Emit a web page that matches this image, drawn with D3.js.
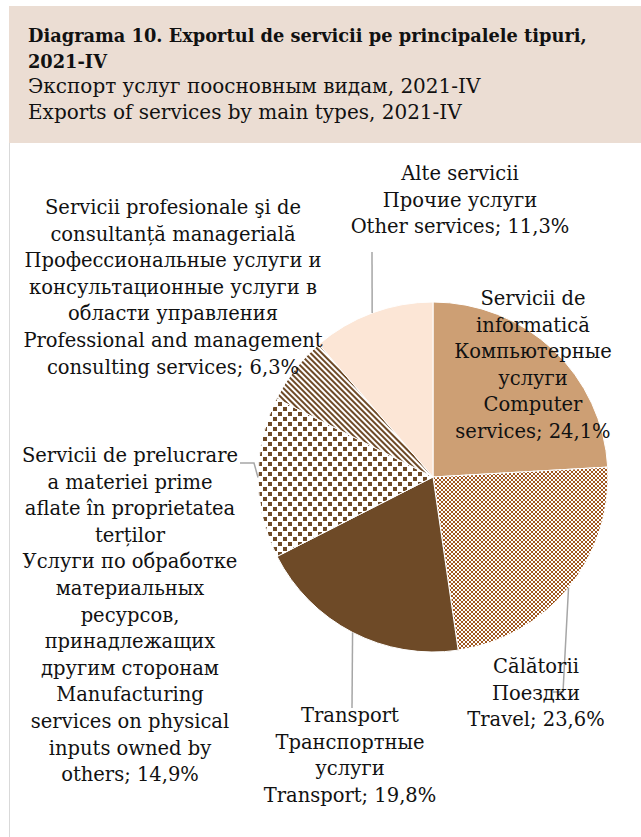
<!DOCTYPE html>
<html>
<head>
<meta charset="utf-8">
<script src="https://cdn.jsdelivr.net/npm/d3@7"></script>
<style>
  body { margin: 0; background: #fff; }
  text { font-family: "DejaVu Serif", serif; fill: #111; }
</style>
</head>
<body>
<div id="chart-div"></div>
<script>
// data
var categories = ["Computer", "Travel", "Transport", "Manufacturing", "Professional", "Other"];
var shares = [24.1, 23.6, 19.8, 14.9, 6.3, 11.3];
var labelLines = [
    ["Servicii de", "informatică", "Компьютерные", "услуги", "Computer", "services; 24,1%"],
    ["Călătorii", "Поездки", "Travel; 23,6%"],
    ["Transport", "Транспортные", "услуги", "Transport; 19,8%"],
    ["Servicii de prelucrare", "a materiei prime", "aflate în proprietatea", "terților",
     "Услуги по обработке", "материальных", "ресурсов,", "принадлежащих", "другим сторонам",
     "Manufacturing", "services on physical", "inputs owned by", "others; 14,9%"],
    ["Servicii profesionale şi de", "consultanță managerială", "Профессиональные услуги и",
     "консультационные услуги в", "области управления", "Professional and management",
     "consulting services; 6,3%"],
    ["Alte servicii", "Прочие услуги", "Other services; 11,3%"]
];
var titleLines = [
    "Diagrama 10. Exportul de servicii pe principalele tipuri,",
    "2021-IV",
    "Экспорт услуг поосновным видам, 2021-IV",
    "Exports of services by main types, 2021-IV"
];

var width = 641, height = 837;
var cx = 433, cy = 477, radius = 175;
var lineH = 26.6;

// label placement (center x, first baseline) and leader line ends
var labelPos = [
    {x: 533, y: 305, line: null},
    {x: 536, y: 673, line: [[563, 692], [553, 692]]},
    {x: 350, y: 722, line: [[352, 708]]},
    {x: 130, y: 462, line: [[254, 463], [240, 463]]},
    {x: 173, y: 214, line: null},
    {x: 460, y: 180, line: [[372, 252]]}
];

var svg = d3.select('#chart-div')
    .append('svg')
    .attr("width", width)
    .attr("height", height);

var defs = svg.append("defs");

// Travel: small checker
var pTravel = defs.append("pattern").attr("id", "p-travel")
    .attr("patternUnits", "userSpaceOnUse").attr("width", 4).attr("height", 4);
pTravel.append("rect").attr("width", 4).attr("height", 4).attr("fill", "#fff");
pTravel.append("rect").attr("width", 2).attr("height", 2).attr("fill", "#a0571f");
pTravel.append("rect").attr("x", 2).attr("y", 2).attr("width", 2).attr("height", 2).attr("fill", "#a0571f");

// Manufacturing: large dots
var pManuf = defs.append("pattern").attr("id", "p-manuf")
    .attr("patternUnits", "userSpaceOnUse").attr("width", 10).attr("height", 10);
pManuf.append("rect").attr("width", 10).attr("height", 10).attr("fill", "#fff");
pManuf.append("rect").attr("width", 4).attr("height", 4).attr("fill", "#6e4a27");
pManuf.append("rect").attr("x", 5).attr("y", 5).attr("width", 4).attr("height", 4).attr("fill", "#6e4a27");

// Professional: diagonal stripes
var pProf = defs.append("pattern").attr("id", "p-prof")
    .attr("patternUnits", "userSpaceOnUse").attr("width", 4).attr("height", 4)
    .attr("patternTransform", "rotate(-45)");
pProf.append("rect").attr("width", 4).attr("height", 4).attr("fill", "#fff");
pProf.append("rect").attr("width", 2).attr("height", 4).attr("fill", "#6e4a27");

var color = d3.scaleOrdinal()
    .domain(categories)
    .range(["#cd9f74", "url(#p-travel)", "#6e4a27", "url(#p-manuf)", "url(#p-prof)", "#fce6d6"]);

// header box
svg.append("rect")
    .attr("x", 9).attr("y", 6)
    .attr("width", width - 9).attr("height", 137)
    .attr("fill", "#ebddd3");

svg.append("line")
    .attr("x1", 9.5).attr("x2", 9.5)
    .attr("y1", 143).attr("y2", height)
    .attr("stroke", "#d9d9d9").attr("stroke-width", 1);

var title = svg.append("g").attr("class", "title");
title.selectAll("text")
    .data(titleLines)
    .enter().append("text")
    .attr("x", 28)
    .attr("y", function(d, i) { return 42 + i * 25.5; })
    .style("font-size", function(d, i) { return i < 2 ? "17.8px" : "20px"; })
    .style("font-weight", function(d, i) { return i < 2 ? "bold" : "normal"; })
    .text(function(d) { return d; });

var data = categories.map(function(c, i) { return {cat: c, value: shares[i], idx: i}; });

var pie = d3.pie()
    .sort(null)
    .value(function(d) { return d.value; });

var arc = d3.arc().innerRadius(0).outerRadius(radius);

var g = svg.append("g")
    .attr("transform", "translate(" + cx + "," + cy + ")");

var arcs = pie(data);

g.selectAll("path")
    .data(arcs)
    .enter().append("path")
    .attr("d", arc)
    .attr("fill", function(d) { return color(d.data.cat); })
    .attr("stroke", "#fff")
    .attr("stroke-width", 1);

// leader lines, from slice edge at mid angle
svg.selectAll(".leader")
    .data(arcs.filter(function(d) { return labelPos[d.index].line; }))
    .enter().append("polyline")
    .attr("class", "leader")
    .attr("fill", "none")
    .attr("stroke", "#a6a6a6")
    .attr("stroke-width", 1.5)
    .attr("points", function(d) {
        var a = (d.startAngle + d.endAngle) / 2;
        var start = [cx + radius * Math.sin(a), cy - radius * Math.cos(a)];
        return [start].concat(labelPos[d.index].line).map(function(p) { return p.join(","); }).join(" ");
    });

// labels
var labels = svg.selectAll(".label")
    .data(arcs)
    .enter().append("text")
    .attr("class", "label")
    .attr("text-anchor", "middle")
    .style("font-size", "19.5px");

labels.selectAll("tspan")
    .data(function(d) {
        return labelLines[d.index].map(function(t, j) { return {t: t, j: j, p: labelPos[d.index]}; });
    })
    .enter().append("tspan")
    .attr("x", function(d) { return d.p.x; })
    .attr("y", function(d) { return d.p.y + d.j * lineH; })
    .text(function(d) { return d.t; });
</script>
</body>
</html>
